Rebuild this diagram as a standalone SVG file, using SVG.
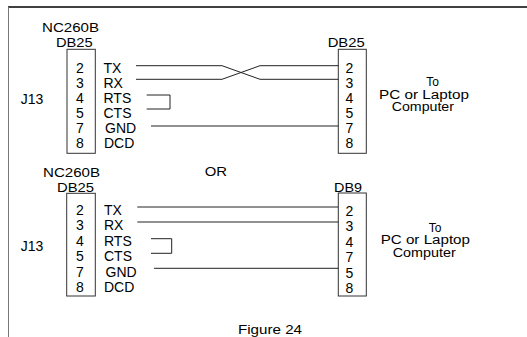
<svg xmlns="http://www.w3.org/2000/svg" width="527" height="337" viewBox="0 0 527 337">
<style>
text{font-family:"Liberation Sans",Arial,sans-serif;font-size:14px;fill:#000}
.c{text-anchor:middle}
.h{font-size:13px}
.t{font-size:12px}
.box{fill:none;stroke:#333;stroke-width:1}
.w{fill:none;stroke:#222;stroke-width:1}
</style>
<rect width="527" height="337" fill="#fff"/>
<g id="frame">
<line x1="8" y1="7" x2="527" y2="7" stroke="#000" stroke-width="1.5"/>
<line x1="8.5" y1="7" x2="8.5" y2="337" stroke="#777" stroke-width="1"/>
</g>
<g id="top-left-connector">
<text class="h" x="42" y="31.7" textLength="57" lengthAdjust="spacingAndGlyphs">NC260B</text>
<text class="h" x="56" y="46.5" textLength="36.7" lengthAdjust="spacingAndGlyphs">DB25</text>
<text x="20.7" y="104">J13</text>
<rect class="box" x="67" y="49.3" width="28.3" height="104"/>
<text class="c" x="80" y="72.7">2</text>
<text class="c" x="80" y="87.8">3</text>
<text class="c" x="80" y="103">4</text>
<text class="c" x="80" y="118.1">5</text>
<text class="c" x="80" y="133.2">7</text>
<text class="c" x="80" y="148.4">8</text>
<text x="103.5" y="72.7">TX</text>
<text x="103.5" y="87.8">RX</text>
<text x="103.5" y="103">RTS</text>
<text x="103.5" y="118.1">CTS</text>
<text x="105" y="133.2">GND</text>
<text x="104" y="148.4">DCD</text>
</g>
<g id="top-right-connector">
<text class="h" x="327.7" y="46.5" textLength="37" lengthAdjust="spacingAndGlyphs">DB25</text>
<rect class="box" x="338.3" y="49.3" width="28" height="104"/>
<text class="c" x="349.5" y="72.7">2</text>
<text class="c" x="349.5" y="87.8">3</text>
<text class="c" x="349.5" y="103">4</text>
<text class="c" x="349.5" y="118.1">5</text>
<text class="c" x="349.5" y="133.2">7</text>
<text class="c" x="349.5" y="148.4">8</text>
<text class="c t" x="432.7" y="86">To</text>
<text class="t" x="379" y="99" textLength="90" lengthAdjust="spacingAndGlyphs">PC or Laptop</text>
<text class="t" x="391.7" y="111" textLength="62.3" lengthAdjust="spacingAndGlyphs">Computer</text>
</g>
<g id="or-label">
<text class="h" x="204.7" y="176" textLength="22.3" lengthAdjust="spacingAndGlyphs">OR</text>
</g>
<g id="bottom-left-connector">
<text class="h" x="43" y="177.3" textLength="57" lengthAdjust="spacingAndGlyphs">NC260B</text>
<text class="h" x="57" y="191.7" textLength="37" lengthAdjust="spacingAndGlyphs">DB25</text>
<text x="20.7" y="250.7">J13</text>
<rect class="box" x="66.7" y="193.3" width="28.6" height="102.7"/>
<text class="c" x="80" y="215">2</text>
<text class="c" x="80" y="230.4">3</text>
<text class="c" x="80" y="245.8">4</text>
<text class="c" x="80" y="261.2">5</text>
<text class="c" x="80" y="276.6">7</text>
<text class="c" x="80" y="292">8</text>
<text x="104" y="215">TX</text>
<text x="104" y="230.4">RX</text>
<text x="104" y="245.8">RTS</text>
<text x="104" y="261.2">CTS</text>
<text x="105.5" y="276.6">GND</text>
<text x="104" y="292">DCD</text>
</g>
<g id="bottom-right-connector">
<text class="h" x="334" y="191.7" textLength="28" lengthAdjust="spacingAndGlyphs">DB9</text>
<rect class="box" x="338.3" y="193" width="28" height="103"/>
<text class="c" x="349.5" y="216">2</text>
<text class="c" x="349.5" y="231.4">3</text>
<text class="c" x="349.5" y="246.8">4</text>
<text class="c" x="349.5" y="262.2">7</text>
<text class="c" x="349.5" y="277.6">5</text>
<text class="c" x="349.5" y="293">8</text>
<text class="c t" x="435" y="232.3">To</text>
<text class="t" x="380.7" y="244.3" textLength="89.3" lengthAdjust="spacingAndGlyphs">PC or Laptop</text>
<text class="t" x="392.7" y="257" textLength="63" lengthAdjust="spacingAndGlyphs">Computer</text>
</g>
<g id="connectors">
<polyline class="w" points="136,65.7 222,65.7 260,79.3 338.3,79.3"/>
<polyline class="w" points="136,79.3 222,79.3 260,65.7 338.3,65.7"/>
<polyline class="w" points="146.7,95 170,95 170,109 146.7,109"/>
<line class="w" x1="151" y1="126" x2="338.3" y2="126"/>
<line class="w" x1="137.3" y1="207" x2="338.3" y2="207"/>
<line class="w" x1="137.3" y1="222" x2="338.3" y2="222"/>
<polyline class="w" points="151,238.7 171.7,238.7 171.7,253.3 151,253.3"/>
<line class="w" x1="154" y1="268.3" x2="338.3" y2="268.3"/>
</g>
<g id="caption">
<text class="h" x="238" y="334" textLength="64" lengthAdjust="spacingAndGlyphs">Figure 24</text>
</g>
</svg>
